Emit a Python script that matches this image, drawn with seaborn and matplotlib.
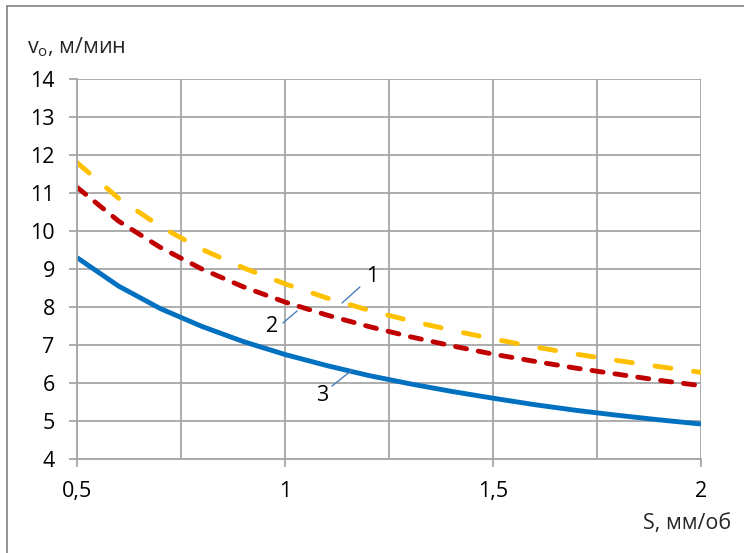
import matplotlib
matplotlib.use("Agg")
import matplotlib.pyplot as plt
from matplotlib.patches import Rectangle
from matplotlib.ticker import FixedLocator
import seaborn as sns
import pandas as pd

# ---- data ----
S = [0.5, 0.6, 0.7, 0.8, 0.9, 1.0, 1.1, 1.2, 1.3, 1.4, 1.5, 1.6, 1.7, 1.8, 1.9, 2.0]
v1 = [11.80, 10.86, 10.12, 9.52, 9.03, 8.61, 8.24, 7.92, 7.64, 7.39, 7.16, 6.95, 6.76, 6.59, 6.43, 6.28]
v2 = [11.15, 10.26, 9.57, 9.00, 8.53, 8.13, 7.79, 7.49, 7.22, 6.98, 6.76, 6.57, 6.39, 6.23, 6.07, 5.93]
v3 = [9.30, 8.55, 7.96, 7.49, 7.09, 6.75, 6.46, 6.20, 5.98, 5.78, 5.60, 5.43, 5.28, 5.15, 5.03, 4.92]

x_ticks = [0.5, 1.0, 1.5, 2.0]
x_tick_labels = ["0,5", "1", "1,5", "2"]
y_ticks = list(range(4, 15))

curve_labels = ["1", "2", "3"]
label_xy = [(1.21, 8.79), (0.97, 7.50), (1.09, 5.68)]
leader_from = [(1.137, 8.105), (0.995, 7.58), (1.113, 5.92)]
leader_to = [(1.180, 8.526), (1.029, 7.895), (1.161, 6.34)]

df = pd.DataFrame({"S": S, "v1": v1, "v2": v2, "v3": v3})

sns.set_theme(style="white")
plt.rcParams["font.family"] = ["Open Sans", "DejaVu Sans"]

FS = 15.5
LW = 3.5

fig = plt.figure(figsize=(7.44, 5.53), dpi=100)
ax = fig.add_axes([77 / 744, 1 - 459 / 553, 624 / 744, 380 / 553])

grid_col = "#a6a6a6"

sns.lineplot(data=df, x="S", y="v1", ax=ax, color="#FFC000", lw=LW)
l1 = ax.lines[-1]
l1.set_dashes((3.3, 4.7))
l1.set_dash_capstyle("round")
sns.lineplot(data=df, x="S", y="v2", ax=ax, color="#C00000", lw=LW)
l2 = ax.lines[-1]
l2.set_dashes((2.3, 2.45))
l2.set_dash_capstyle("round")
sns.lineplot(data=df, x="S", y="v3", ax=ax, color="#0070C0", lw=LW)
ax.lines[-1].set_solid_capstyle("butt")

for lab, (tx, ty), (ax0, ay0), (ax1, ay1) in zip(curve_labels, label_xy, leader_from, leader_to):
    ax.plot([ax0, ax1], [ay0, ay1], color="#4a7ebb", lw=1.0, zorder=5)
    ax.text(tx, ty, lab, fontsize=FS, ha="center", va="center", color="black")

ax.set_xlim(0.5, 2.0)
ax.set_ylim(4, 14)
ax.set_xticks(x_ticks)
ax.set_xticklabels(x_tick_labels)
ax.xaxis.set_minor_locator(FixedLocator([0.75, 1.25, 1.75]))
ax.set_yticks(y_ticks)
ax.grid(True, which="both", color=grid_col, lw=1.3)
ax.set_axisbelow(True)
ax.tick_params(axis="both", which="major", direction="out", length=6, width=1.3,
               color=grid_col, labelsize=FS, labelcolor="black", pad=10)
ax.tick_params(axis="x", which="minor", length=0)
ax.tick_params(axis="x", bottom=True)
ax.tick_params(axis="y", left=True)
for side in ["top", "right"]:
    ax.spines[side].set_visible(False)
for side in ["left", "bottom"]:
    ax.spines[side].set_color(grid_col)
    ax.spines[side].set_linewidth(1.3)
ax.set_xlabel("")
ax.set_ylabel("")

fig.text(27 / 744, 1 - 47 / 553, r"v$_{\mathregular{o}}$, м/мин", fontsize=FS,
         ha="left", va="center")
fig.text(731 / 744, 1 - 524 / 553, "S, мм/об", fontsize=FS, ha="right", va="center")

fig.add_artist(Rectangle((7 / 744, -0.2), 1.2, 1 - 6 / 553 + 0.2, transform=fig.transFigure,
                         fill=False, edgecolor="#808080", lw=1.2))

fig.savefig("out.png", dpi=100, facecolor="white")
